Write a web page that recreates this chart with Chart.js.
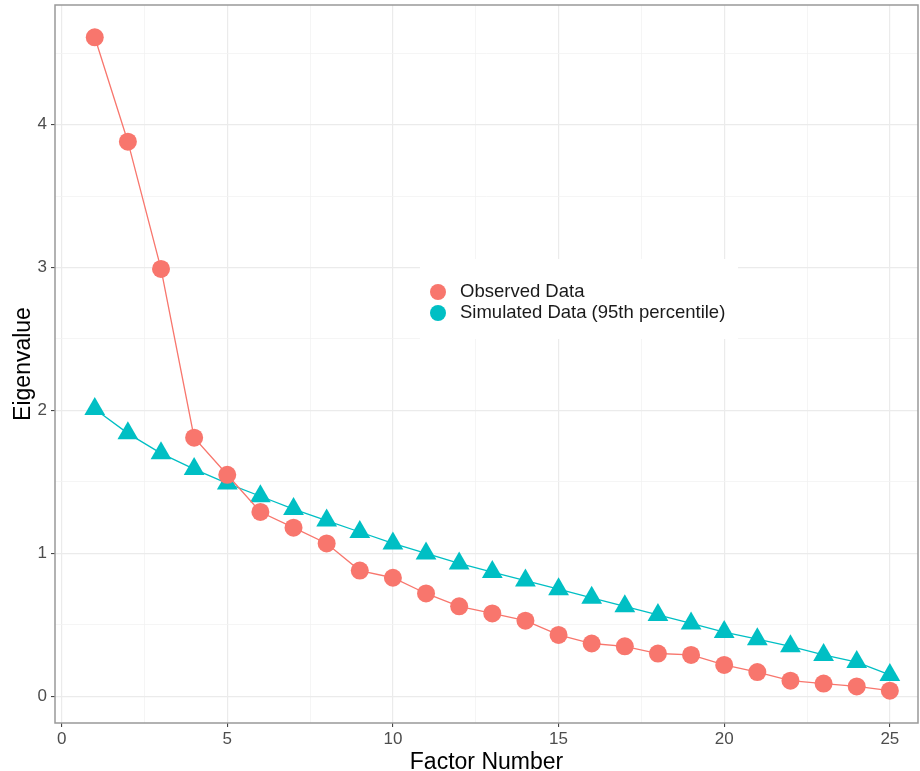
<!DOCTYPE html>
<html lang="en">
<head>
<meta charset="utf-8">
<title>Parallel Analysis Scree Plot</title>
<script src="https://cdn.jsdelivr.net/npm/chart.js@4/dist/chart.umd.min.js"></script>
<style>
  html, body { margin: 0; padding: 0; background: #fff; overflow: hidden; }
  #wrap { width: 920px; height: 771px; }
</style>
</head>
<body>
<div id="wrap"><canvas id="scree"></canvas></div>
<script>
// factor numbers and eigenvalues
var factors = [1,2,3,4,5,6,7,8,9,10,11,12,13,14,15,16,17,18,19,20,21,22,23,24,25];
var observed = [4.61,3.88,2.99,1.81,1.55,1.29,1.18,1.07,0.88,0.83,0.72,0.63,0.58,0.53,0.43,
                0.37,0.35,0.30,0.29,0.22,0.17,0.11,0.09,0.07,0.04];
var simulated = [2.01,1.84,1.70,1.59,1.49,1.40,1.31,1.23,1.15,1.07,1.00,0.93,0.87,0.81,0.75,
                 0.69,0.63,0.57,0.51,0.45,0.40,0.35,0.29,0.24,0.15];
var seriesNames = ['Observed Data', 'Simulated Data (95th percentile)'];
var xTicks = [0, 5, 10, 15, 20, 25];
var yTicks = [0, 1, 2, 3, 4];

var red = '#F8766D', teal = '#00BFC4';
var FONT = '"Liberation Sans", Arial, sans-serif';

function pts(ys) {
  return factors.map(function (f, i) { return { x: f, y: ys[i] }; });
}

function isMajor(v, list) {
  return list.some(function (t) { return Math.abs(t - v) < 1e-6; });
}

// panel border + legend box inside the panel
var panelExtras = {
  id: 'panelExtras',
  afterDraw: function (chart) {
    var ctx = chart.ctx, a = chart.chartArea;
    ctx.save();
    ctx.strokeStyle = '#999999';
    ctx.lineWidth = 1.5;
    ctx.strokeRect(a.left, a.top, a.right - a.left, a.bottom - a.top);

    // legend
    var bx = 420, by = 259, bw = 318, bh = 80;
    ctx.fillStyle = '#ffffff';
    ctx.fillRect(bx, by, bw, bh);
    var cols = [red, teal];
    ctx.font = '18.5px ' + FONT;
    ctx.textBaseline = 'middle';
    seriesNames.forEach(function (name, i) {
      var cy = 292 + i * 21;
      ctx.beginPath();
      ctx.arc(438, cy, 8, 0, Math.PI * 2);
      ctx.fillStyle = cols[i];
      ctx.fill();
      ctx.fillStyle = '#1a1a1a';
      ctx.fillText(name, 460, cy);
    });
    ctx.restore();
  }
};

new Chart(document.getElementById('scree'), {
  type: 'line',
  data: {
    datasets: [{
      label: seriesNames[0],
      data: pts(observed),
      borderColor: red,
      backgroundColor: red,
      borderWidth: 1.3,
      pointStyle: 'circle',
      pointRadius: 9,
      pointBorderWidth: 0,
      pointHoverRadius: 9,
      tension: 0
    }, {
      label: seriesNames[1],
      data: pts(simulated),
      borderColor: teal,
      backgroundColor: teal,
      borderWidth: 1.3,
      pointStyle: 'triangle',
      pointRadius: 12,
      pointBorderWidth: 0,
      pointHoverRadius: 12,
      tension: 0
    }]
  },
  options: {
    responsive: true,
    maintainAspectRatio: false,
    animation: false,
    layout: { autoPadding: false, padding: { left: 0, right: 2, top: 5, bottom: 0 } },
    plugins: {
      legend: { display: false },
      tooltip: { enabled: false }
    },
    scales: {
      x: {
        type: 'linear',
        min: -0.2,
        max: 25.85,
        border: { display: false },
        afterBuildTicks: function (scale) {
          var t = [];
          for (var v = 0; v <= 25.01; v += 2.5) t.push({ value: v });
          scale.ticks = t;
        },
        afterFit: function (scale) {
          scale.height = 48;
          scale.paddingLeft = 0;
          scale.paddingRight = 0;
        },
        ticks: {
          autoSkip: false,
          maxRotation: 0,
          padding: 2,
          color: '#4d4d4d',
          font: { family: FONT, size: 17 },
          callback: function (v) { return isMajor(v, xTicks) ? String(v) : ''; }
        },
        grid: {
          drawTicks: true,
          tickLength: 4,
          color: function (c) { return isMajor(c.tick.value, xTicks) ? '#ebebeb' : '#f3f3f3'; },
          lineWidth: function (c) { return isMajor(c.tick.value, xTicks) ? 1.2 : 0.8; },
          tickColor: function (c) { return isMajor(c.tick.value, xTicks) ? '#333333' : 'rgba(0,0,0,0)'; },
          tickWidth: 1
        },
        title: {
          display: true,
          text: 'Factor Number',
          color: '#000',
          font: { family: FONT, size: 23 },
          padding: { top: 0, bottom: -5 }
        }
      },
      y: {
        type: 'linear',
        min: -0.186,
        max: 4.836,
        border: { display: false },
        afterBuildTicks: function (scale) {
          var t = [];
          for (var v = 0; v <= 4.51; v += 0.5) t.push({ value: v });
          scale.ticks = t;
        },
        afterFit: function (scale) {
          scale.width = 55;
          scale.paddingTop = 0;
          scale.paddingBottom = 0;
        },
        ticks: {
          autoSkip: false,
          padding: 4,
          color: '#4d4d4d',
          font: { family: FONT, size: 17 },
          callback: function (v) { return isMajor(v, yTicks) ? String(v) : ''; }
        },
        grid: {
          drawTicks: true,
          tickLength: 4,
          color: function (c) { return isMajor(c.tick.value, yTicks) ? '#ebebeb' : '#f3f3f3'; },
          lineWidth: function (c) { return isMajor(c.tick.value, yTicks) ? 1.2 : 0.8; },
          tickColor: function (c) { return isMajor(c.tick.value, yTicks) ? '#333333' : 'rgba(0,0,0,0)'; },
          tickWidth: 1
        },
        title: {
          display: true,
          text: 'Eigenvalue',
          color: '#000',
          font: { family: FONT, size: 23 },
          padding: { top: 10, bottom: 0 }
        }
      }
    }
  },
  plugins: [panelExtras]
});
</script>
</body>
</html>
